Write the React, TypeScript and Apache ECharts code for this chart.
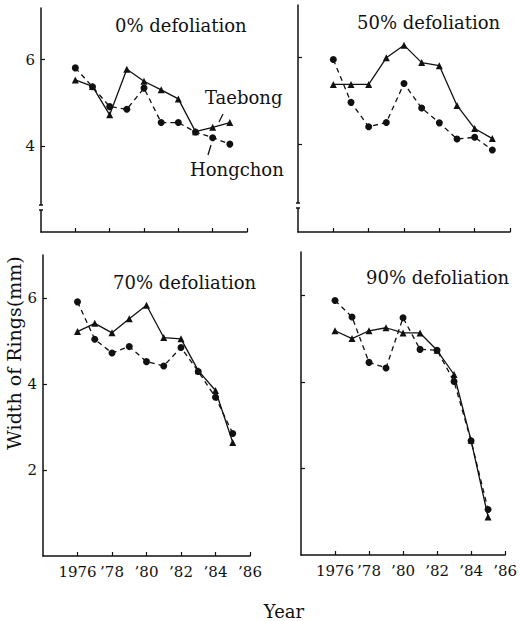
import React, { useEffect, useRef } from "react";
import * as echarts from "echarts";

const years = [1976, 1977, 1978, 1979, 1980, 1981, 1982, 1983, 1984, 1985];
const xTicks = [1976, 1978, 1980, 1982, 1984, 1986];

const hongchon0 = [5.81, 5.37, 4.91, 4.85, 5.34, 4.54, 4.54, 4.32, 4.19, 4.04];
const taebong0 = [5.53, 5.38, 4.72, 5.78, 5.5, 5.3, 5.09, 4.33, 4.43, 4.54];
const hongchon50 = [5.95, 4.97, 4.41, 4.51, 5.4, 4.84, 4.5, 4.13, 4.17, 3.88];
const taebong50 = [5.38, 5.38, 5.38, 5.99, 6.28, 5.88, 5.81, 4.9, 4.37, 4.14];
const hongchon70 = [5.91, 5.04, 4.72, 4.87, 4.52, 4.42, 4.85, 4.29, 3.69, 2.85];
const taebong70 = [5.22, 5.41, 5.19, 5.52, 5.83, 5.08, 5.05, 4.31, 3.85, 2.64];
const hongchon90 = [5.88, 5.5, 4.45, 4.32, 5.48, 4.75, 4.73, 4.01, 2.64, 1.05];
const taebong90 = [5.18, 5.0, 5.18, 5.25, 5.13, 5.13, 4.73, 4.17, 2.65, 0.88];

const panelTitles = ["0% defoliation", "50% defoliation", "70% defoliation", "90% defoliation"];
const topYTicks = [4, 6];
const bottomYTicks = [2, 4, 6];

const FONT = "DejaVu Serif";
const INK = "#111";

export default function App() {
  const ref = useRef<HTMLDivElement>(null);
  useEffect(() => {
    if (!ref.current) return;
    const chart = echarts.init(ref.current, null, { renderer: "svg" });

    const grids = [
      { left: 41, top: 8, width: 206, height: 224 },
      { left: 298, top: 5, width: 212, height: 227 },
      { left: 43, top: 255, width: 207, height: 301 },
      { left: 301, top: 252, width: 211, height: 303 },
    ];
    const yRanges = [
      [2, 7.2],
      [2, 7.2],
      [0, 7],
      [0, 7],
    ];
    const hong = [hongchon0, hongchon50, hongchon70, hongchon90];
    const tae = [taebong0, taebong50, taebong70, taebong90];

    const xAxes = grids.map((_, i) => ({
      type: "value",
      gridIndex: i,
      min: 1974,
      max: 1986,
      interval: 2,
      axisLine: { show: true, lineStyle: { color: INK, width: 1.5 } },
      axisTick: { show: true, inside: true, length: 4, customValues: xTicks, lineStyle: { color: INK, width: 1.2 } },
      axisLabel: {
        show: i >= 2,
        customValues: xTicks,
        margin: 8,
        fontFamily: FONT,
        fontSize: 15,
        color: INK,
        formatter: (v: number) => (v === 1976 ? "1976" : "\u2019" + String(v).slice(2)),
      },
      splitLine: { show: false },
    }));

    const yAxes = grids.map((_, i) => ({
      type: "value",
      gridIndex: i,
      min: yRanges[i][0],
      max: yRanges[i][1],
      interval: 2,
      axisLine: { show: true, lineStyle: { color: INK, width: 1.5 } },
      axisTick: {
        show: true,
        inside: true,
        length: 4,
        customValues: i < 2 ? topYTicks : bottomYTicks,
        lineStyle: { color: INK, width: 1.2 },
      },
      axisLabel: {
        show: i % 2 === 0,
        customValues: i < 2 ? topYTicks : bottomYTicks,
        margin: 6,
        fontFamily: FONT,
        fontSize: 15,
        color: INK,
      },
      splitLine: { show: false },
    }));

    const series: any[] = [];
    for (let i = 0; i < 4; i++) {
      series.push({
        type: "line",
        name: "Taebong",
        xAxisIndex: i,
        yAxisIndex: i,
        data: years.map((y, k) => [y, tae[i][k]]),
        symbol: "triangle",
        symbolSize: 7,
        lineStyle: { color: INK, width: 1.3, type: "solid" },
        itemStyle: { color: INK },
        z: 3,
      });
      series.push({
        type: "line",
        name: "Hongchon",
        xAxisIndex: i,
        yAxisIndex: i,
        data: years.map((y, k) => [y, hong[i][k]]),
        symbol: "circle",
        symbolSize: 7,
        lineStyle: { color: INK, width: 1.3, type: [5, 4] },
        itemStyle: { color: INK },
        z: 4,
      });
    }

    const titlePos = [
      [115, 25],
      [357, 22],
      [113, 282],
      [366, 277],
    ];
    const graphic: any[] = panelTitles.map((t, i) => ({
      type: "text",
      x: titlePos[i][0],
      y: titlePos[i][1],
      style: { text: t, font: `18px "${FONT}"`, fill: INK, align: "left", verticalAlign: "middle" },
    }));

    // axis breaks on top panels
    const breaks = [
      { x: 41, y1: 205, y2: 210 },
      { x: 298, y1: 203, y2: 208 },
    ];
    breaks.forEach((b) => {
      graphic.push({ type: "rect", shape: { x: b.x - 3, y: b.y1, width: 6, height: b.y2 - b.y1 }, style: { fill: "#fff" }, z: 100 });
      graphic.push({ type: "line", shape: { x1: b.x - 2, y1: b.y1, x2: b.x + 2, y2: b.y1 }, style: { stroke: INK, lineWidth: 1.5 }, z: 101 });
      graphic.push({ type: "line", shape: { x1: b.x - 2, y1: b.y2, x2: b.x + 2, y2: b.y2 }, style: { stroke: INK, lineWidth: 1.5 }, z: 101 });
    });

    graphic.push(
      { type: "text", x: 205, y: 97, style: { text: "Taebong", font: `18px "${FONT}"`, fill: INK, align: "left", verticalAlign: "middle" } },
      { type: "text", x: 190, y: 169, style: { text: "Hongchon", font: `18px "${FONT}"`, fill: INK, align: "left", verticalAlign: "middle" } },
      { type: "line", shape: { x1: 223, y1: 114, x2: 219, y2: 122 }, style: { stroke: INK, lineWidth: 1.3 } },
      { type: "line", shape: { x1: 211, y1: 145, x2: 208, y2: 155 }, style: { stroke: INK, lineWidth: 1.3 } },
      {
        type: "text",
        x: 14,
        y: 353,
        rotation: Math.PI / 2,
        style: { text: "Width of Rings(mm)", font: `19px "${FONT}"`, fill: INK, align: "center", verticalAlign: "middle" },
      },
      { type: "text", x: 284, y: 611, style: { text: "Year", font: `18px "${FONT}"`, fill: INK, align: "center", verticalAlign: "middle" } }
    );

    chart.setOption({
      animation: false,
      backgroundColor: "#fff",
      grid: grids,
      xAxis: xAxes,
      yAxis: yAxes,
      series,
      graphic,
    });
    return () => chart.dispose();
  }, []);
  return <div ref={ref} style={{ position: "fixed", left: 0, top: 0, width: 520, height: 621 }} />;
}
